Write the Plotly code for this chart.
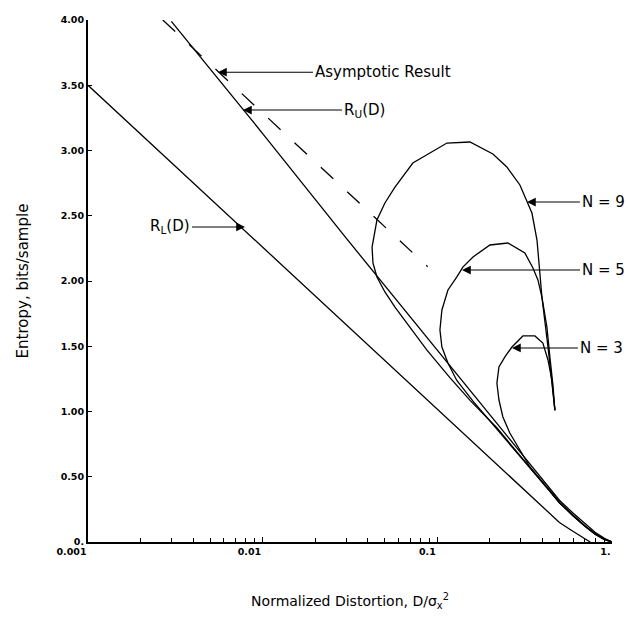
import numpy as np
import plotly.graph_objects as go

# ---- data ----
D_RL = [0.001, 0.01, 0.1, 0.3, 0.5, 0.6, 0.68, 0.75]
H_RL = [3.50, 2.26, 1.02, 0.43, 0.15, 0.08, 0.035, 0.0]

D_RU = [0.003, 0.01, 0.03, 0.1, 0.3, 0.5, 0.6, 0.7, 0.8, 0.9, 1.0]
H_RU = [3.99, 3.13, 2.33, 1.47, 0.68, 0.32, 0.22, 0.14, 0.075, 0.03, 0.0]

D_ASYM = [0.00268, 0.01, 0.03, 0.088]
H_ASYM = [4.00, 3.29, 2.69, 2.11]

D_N9 = [1.0, 0.9, 0.8, 0.7, 0.6, 0.5, 0.44, 0.339, 0.219, 0.154, 0.118, 0.0872,
        0.067, 0.0572, 0.0501, 0.0451, 0.0428, 0.0423, 0.0451, 0.0501, 0.0572,
        0.0724, 0.1135, 0.1537, 0.208, 0.250, 0.297, 0.348, 0.372, 0.387, 0.397,
        0.430, 0.471]
H_N9 = [0.0, 0.02, 0.06, 0.12, 0.2, 0.30, 0.39, 0.57, 0.875, 1.085, 1.26, 1.47,
        1.678, 1.80, 1.916, 2.031, 2.138, 2.26, 2.467, 2.598, 2.72,
        2.904, 3.057, 3.065, 2.973, 2.874, 2.736, 2.521, 2.314, 2.031, 1.877,
        1.494, 1.01]

D_N5 = [1.0, 0.9, 0.8, 0.7, 0.6, 0.5, 0.44, 0.339, 0.219, 0.16, 0.129, 0.115,
        0.1062, 0.1035, 0.1062, 0.115, 0.1294, 0.140, 0.160, 0.200, 0.2535,
        0.317, 0.3526, 0.3767, 0.397, 0.424, 0.441, 0.459, 0.471]
H_N5 = [0.0, 0.02, 0.06, 0.12, 0.2, 0.30, 0.39, 0.57, 0.87, 1.08, 1.24, 1.372,
        1.494, 1.625, 1.778, 1.931, 2.031, 2.107, 2.184, 2.276, 2.291,
        2.215, 2.10, 2.008, 1.877, 1.647, 1.418, 1.203, 1.01]

D_N3 = [1.0, 0.9, 0.8, 0.7, 0.6, 0.5, 0.44, 0.339, 0.297, 0.260, 0.2373, 0.2253,
        0.2193, 0.2253, 0.2437, 0.2673, 0.309, 0.362, 0.402, 0.430, 0.453, 0.471]
H_N3 = [0.0, 0.025, 0.065, 0.125, 0.205, 0.305, 0.395, 0.575, 0.705, 0.835, 0.958,
        1.088, 1.218, 1.341, 1.418, 1.494, 1.579, 1.579, 1.525, 1.395, 1.241, 1.01]

X_TICKS = [0.001, 0.01, 0.1, 1.0]
X_TICKTEXT = ["0.001", "0.01", "0.1", "1."]
Y_TICKS = [0, 0.5, 1.0, 1.5, 2.0, 2.5, 3.0, 3.5, 4.0]
Y_TICKTEXT = ["0.", "0.50", "1.00", "1.50", "2.00", "2.50", "3.00", "3.50", "4.00"]
X_MINOR = [m * 10.0 ** e for e in (-3, -2, -1) for m in range(2, 10)]

# label annotations: (text, tip D, tip H, ax px, ay px, anchor)
LABELS = [
    ("Asymptotic Result", 0.005547, 3.60, 95, 0, "left"),
    ("R<sub>U</sub>(D)", 0.00771, 3.31, 99, 0, "left"),
    ("R<sub>L</sub>(D)", 0.00792, 2.414, -53, 0, "right"),
    ("N = 9", 0.3258, 2.605, 53, 0, "left"),
    ("N = 5", 0.1384, 2.084, 118, 0, "left"),
    ("N = 3", 0.2673, 1.487, 66, 0, "left"),
]

FONT = "DejaVu Sans"
line = dict(color="black", width=1.3)

fig = go.Figure()
fig.add_trace(go.Scatter(x=D_RL, y=H_RL, mode="lines", line=line))
fig.add_trace(go.Scatter(x=D_RU, y=H_RU, mode="lines", line=line))
fig.add_trace(go.Scatter(x=D_ASYM, y=H_ASYM, mode="lines",
                         line=dict(color="black", width=1.3, dash="17px,19px")))
fig.add_trace(go.Scatter(x=D_N9, y=H_N9, mode="lines", line=line))
fig.add_trace(go.Scatter(x=D_N5, y=H_N5, mode="lines", line=line))
fig.add_trace(go.Scatter(x=D_N3, y=H_N3, mode="lines", line=line))

for text, d, h, ax, ay, anc in LABELS:
    fig.add_annotation(x=np.log10(d), y=h, xref="x", yref="y", text=text,
                       showarrow=True, ax=ax, ay=ay, xanchor=anc,
                       arrowhead=2, arrowsize=1.6, arrowwidth=1.1,
                       arrowcolor="black",
                       font=dict(family=FONT, size=15, color="black"))

tickfont = dict(family=FONT, size=9.5, color="black", weight="bold")

fig.update_xaxes(type="log", range=[-3, 0], tickmode="array",
                 tickvals=X_TICKS, ticktext=X_TICKTEXT,
                 ticks="inside", ticklen=5, tickwidth=1, tickcolor="black",
                 minor=dict(tickmode="array", tickvals=X_MINOR, ticks="inside",
                            ticklen=4, tickcolor="black", showgrid=False),
                 showline=True, linecolor="black", linewidth=2,
                 showgrid=False, zeroline=False,
                 ticklabelposition="outside left",
                 tickfont=tickfont,
                 title=dict(text="Normalized Distortion, D/σ<sub>x</sub><sup>2</sup>",
                            font=dict(family=FONT, size=14, color="black"),
                            standoff=40))
fig.update_yaxes(range=[0, 4], tickmode="array", tickvals=Y_TICKS,
                 ticktext=Y_TICKTEXT, ticks="inside", ticklen=4,
                 tickcolor="black", showline=True, linecolor="black",
                 linewidth=2, showgrid=False, zeroline=False,
                 tickfont=tickfont,
                 title=dict(text="Entropy, bits/sample",
                            font=dict(family=FONT, size=15, color="black"),
                            standoff=28))

fig.update_layout(width=628, height=618,
                  margin=dict(l=88, r=16, t=20, b=76, autoexpand=False),
                  plot_bgcolor="white", paper_bgcolor="white",
                  showlegend=False)

fig.write_html("out.html")
